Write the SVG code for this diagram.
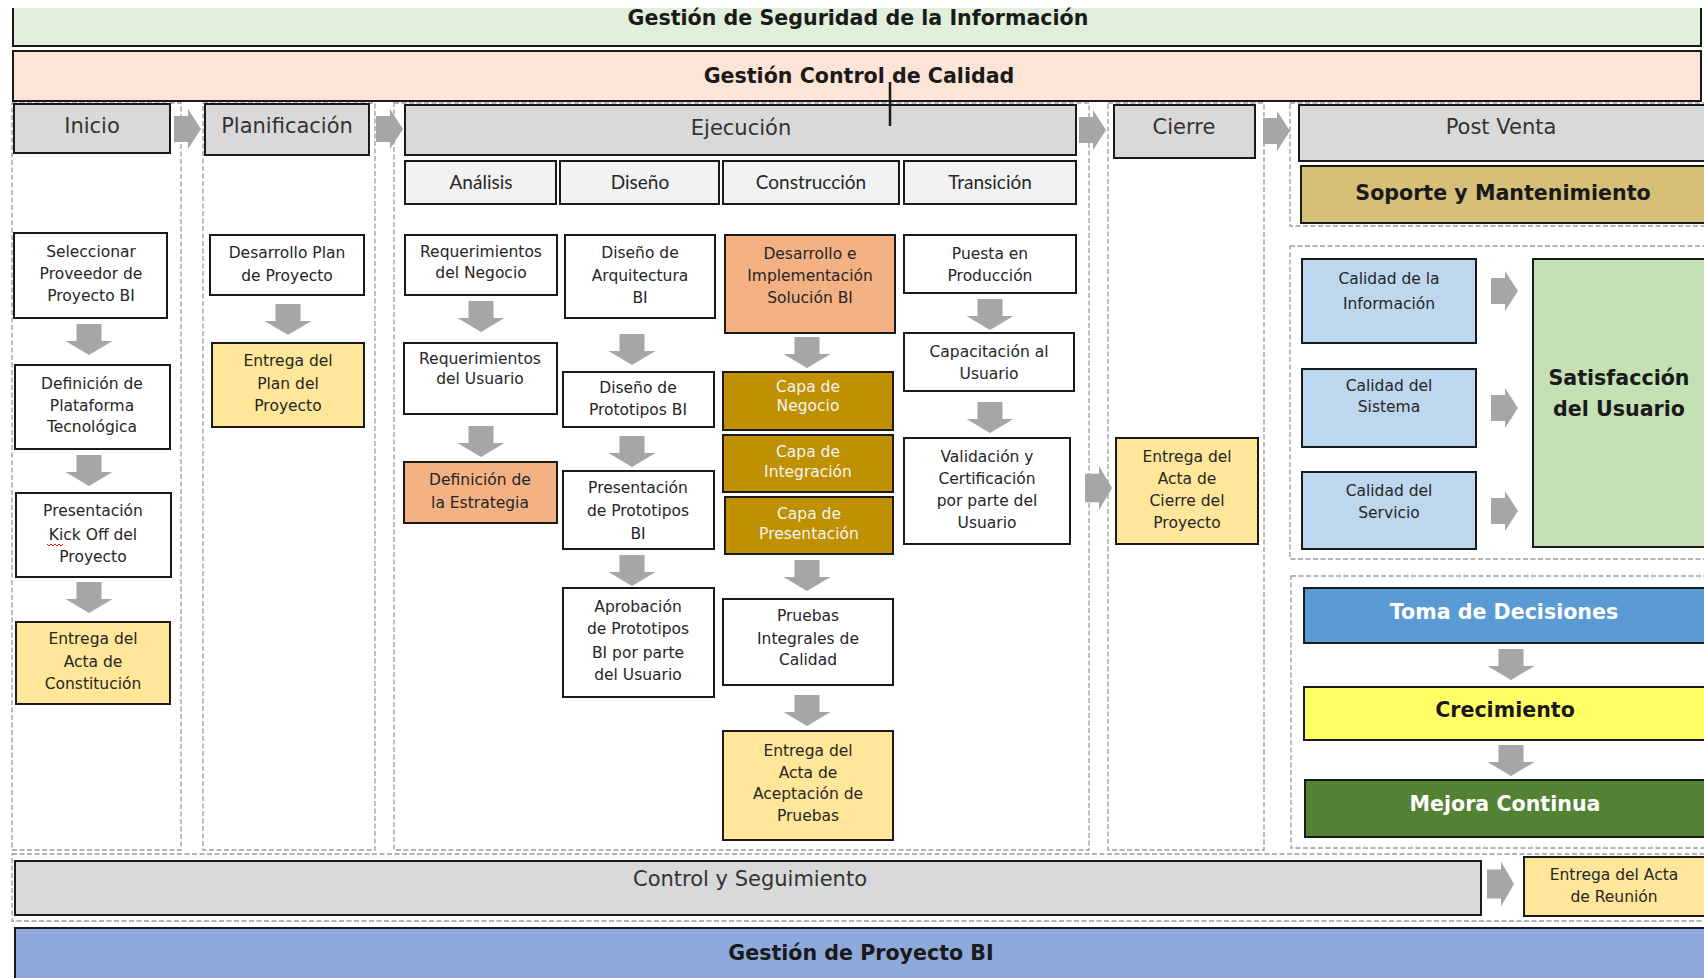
<svg xmlns="http://www.w3.org/2000/svg" width="1704" height="978" viewBox="0 0 1704 978">
  <style>
    .box { stroke: #1a1a1a; stroke-width: 2; }
    .dash { fill: none; stroke: #9c9c9c; stroke-width: 1.3; stroke-dasharray: 5 2.5; }
    .arrow { fill: #a6a6a6; }
    .t { font-family: "DejaVu Sans", "Liberation Sans", sans-serif; font-size: 15.5px; fill: #262626; text-anchor: middle; }
    .w { fill: #f4f4f4; }
    .h { font-family: "DejaVu Sans", "Liberation Sans", sans-serif; font-size: 21px; fill: #333333; text-anchor: middle; }
    .sub { font-family: Lato, "Liberation Sans", sans-serif; font-size: 19px; fill: #262626; text-anchor: middle; }
    .b { font-family: "DejaVu Sans", "Liberation Sans", sans-serif; font-weight: bold; font-size: 20.6px; fill: #1a1a1a; text-anchor: middle; }
    .bw { fill: #ffffff; }
    .gray { fill: #d9d9d9; }
    .light { fill: #f2f2f2; }
    .white { fill: #ffffff; }
    .yellow { fill: #ffe699; }
    .orange { fill: #f4b183; }
    .gold { fill: #bf9000; }
    .blue { fill: #bdd7ee; }
  </style>
  <defs>
    <path id="down" class="arrow" d="M-12.5,0 H12.5 V17 H23.5 L0,31 L-23.5,17 H-12.5 Z"/>
    <path id="right" class="arrow" d="M0,-13 H14 V-20 L27,0 L14,20 V13 H0 Z"/>
  </defs>

  <rect x="0" y="0" width="1704" height="978" fill="#ffffff"/>

  <!-- cross-cutting bands -->
  <g id="seguridad">
    <rect x="13" y="8" width="1688" height="38" fill="#e2efda"/>
    <path d="M13,8 V46 H1701 V8" fill="none" stroke="#1a1a1a" stroke-width="2"/>
    <text class="b" x="858" y="25">Gestión de Seguridad de la Información</text>
  </g>
  <g id="calidad">
    <rect class="box" x="13" y="51" width="1688" height="50" fill="#fce4d6"/>
    <text class="b" x="859" y="83">Gestión Control de Calidad</text>
  </g>

  <!-- phase lanes -->
  <g id="lanes">
    <rect class="dash" x="12" y="103" width="169" height="747"/>
    <rect class="dash" x="203" y="103" width="172" height="747"/>
    <rect class="dash" x="394" y="103" width="695" height="747"/>
    <rect class="dash" x="1108" y="103" width="156" height="747"/>
    <rect class="dash" x="1290" y="103" width="420" height="123"/>
    <rect class="dash" x="1290" y="246" width="420" height="313"/>
    <rect class="dash" x="1291" y="576" width="420" height="272"/>
    <rect class="dash" x="12" y="854" width="1700" height="67"/>
  </g>

  <!-- phase headers -->
  <g id="inicio">
    <rect class="box gray" x="14" y="104" width="156" height="49"/>
    <text class="h" x="92" y="133">Inicio</text>
  </g>
  <g id="planificacion">
    <rect class="box gray" x="205" y="104" width="164" height="51"/>
    <text class="h" x="287" y="133">Planificación</text>
  </g>
  <g id="ejecucion">
    <rect class="box gray" x="405" y="105" width="671" height="50"/>
    <text class="h" x="741" y="135">Ejecución</text>
  </g>
  <g id="analisis">
    <rect class="box light" x="405" y="161" width="151" height="43"/>
    <text class="sub" x="481" y="189">Análisis</text>
  </g>
  <g id="diseno">
    <rect class="box light" x="560" y="161" width="159" height="43"/>
    <text class="sub" x="640" y="189">Diseño</text>
  </g>
  <g id="construccion">
    <rect class="box light" x="723" y="161" width="176" height="43"/>
    <text class="sub" x="811" y="189">Construcción</text>
  </g>
  <g id="transicion">
    <rect class="box light" x="904" y="161" width="172" height="43"/>
    <text class="sub" x="990" y="189">Transición</text>
  </g>
  <g id="cierre">
    <rect class="box gray" x="1114" y="105" width="141" height="53"/>
    <text class="h" x="1184" y="134">Cierre</text>
  </g>
  <g id="post-venta">
    <rect class="box gray" x="1299" y="105" width="415" height="56"/>
    <text class="h" x="1501" y="134">Post Venta</text>
  </g>
  <g id="soporte">
    <rect class="box" x="1301" y="166" width="413" height="57" fill="#d6bf77"/>
    <text class="b" x="1503" y="200">Soporte y Mantenimiento</text>
  </g>

  <!-- Inicio -->
  <g id="seleccionar-proveedor">
    <rect class="box white" x="14" y="233" width="153" height="85"/>
    <text class="t" x="91"><tspan x="91" y="257">Seleccionar</tspan><tspan x="91" y="279">Proveedor de</tspan><tspan x="91" y="301">Proyecto BI</tspan></text>
  </g>
  <g id="definicion-plataforma">
    <rect class="box white" x="15" y="365" width="155" height="84"/>
    <text class="t"><tspan x="92" y="389">Definición de</tspan><tspan x="92" y="411">Plataforma</tspan><tspan x="92" y="432">Tecnológica</tspan></text>
  </g>
  <g id="kick-off">
    <rect class="box white" x="16" y="493" width="155" height="84"/>
    <text class="t"><tspan x="93" y="516">Presentación</tspan><tspan x="93" y="540">Kick Off del</tspan><tspan x="93" y="562">Proyecto</tspan></text>
    <path d="M47,544 l2,2 l2,-2 l2,2 l2,-2 l2,2 l2,-2 l2,2 l2,-2" fill="none" stroke="#e02020" stroke-width="1"/>
  </g>
  <g id="acta-constitucion">
    <rect class="box yellow" x="16" y="622" width="154" height="82"/>
    <text class="t"><tspan x="93" y="644">Entrega del</tspan><tspan x="93" y="667">Acta de</tspan><tspan x="93" y="689">Constitución</tspan></text>
  </g>

  <!-- Planificación -->
  <g id="plan-proyecto">
    <rect class="box white" x="210" y="235" width="154" height="60"/>
    <text class="t"><tspan x="287" y="258">Desarrollo Plan</tspan><tspan x="287" y="281">de Proyecto</tspan></text>
  </g>
  <g id="entrega-plan">
    <rect class="box yellow" x="212" y="343" width="152" height="84"/>
    <text class="t"><tspan x="288" y="366">Entrega del</tspan><tspan x="288" y="389">Plan del</tspan><tspan x="288" y="411">Proyecto</tspan></text>
  </g>

  <!-- Análisis -->
  <g id="req-negocio">
    <rect class="box white" x="405" y="235" width="152" height="60"/>
    <text class="t"><tspan x="481" y="257">Requerimientos</tspan><tspan x="481" y="278">del Negocio</tspan></text>
  </g>
  <g id="req-usuario">
    <rect class="box white" x="404" y="343" width="153" height="71"/>
    <text class="t"><tspan x="480" y="364">Requerimientos</tspan><tspan x="480" y="384">del Usuario</tspan></text>
  </g>
  <g id="estrategia">
    <rect class="box orange" x="404" y="462" width="153" height="61"/>
    <text class="t"><tspan x="480" y="485">Definición de</tspan><tspan x="480" y="508">la Estrategia</tspan></text>
  </g>

  <!-- Diseño -->
  <g id="arquitectura">
    <rect class="box white" x="565" y="235" width="150" height="83"/>
    <text class="t"><tspan x="640" y="258">Diseño de</tspan><tspan x="640" y="281">Arquitectura</tspan><tspan x="640" y="303">BI</tspan></text>
  </g>
  <g id="diseno-prototipos">
    <rect class="box white" x="563" y="372" width="151" height="55"/>
    <text class="t"><tspan x="638" y="393">Diseño de</tspan><tspan x="638" y="415">Prototipos BI</tspan></text>
  </g>
  <g id="presentacion-prototipos">
    <rect class="box white" x="563" y="471" width="151" height="78"/>
    <text class="t"><tspan x="638" y="493">Presentación</tspan><tspan x="638" y="516">de Prototipos</tspan><tspan x="638" y="539">BI</tspan></text>
  </g>
  <g id="aprobacion-prototipos">
    <rect class="box white" x="563" y="588" width="151" height="109"/>
    <text class="t"><tspan x="638" y="612">Aprobación</tspan><tspan x="638" y="634">de Prototipos</tspan><tspan x="638" y="658">BI por parte</tspan><tspan x="638" y="680">del Usuario</tspan></text>
  </g>

  <!-- Construcción -->
  <g id="desarrollo-solucion">
    <rect class="box orange" x="725" y="235" width="170" height="98"/>
    <text class="t"><tspan x="810" y="259">Desarrollo e</tspan><tspan x="810" y="281">Implementación</tspan><tspan x="810" y="303">Solución BI</tspan></text>
  </g>
  <g id="capa-negocio">
    <rect class="box gold" x="723" y="372" width="170" height="58"/>
    <text class="t w"><tspan x="808" y="392">Capa de</tspan><tspan x="808" y="411">Negocio</tspan></text>
  </g>
  <g id="capa-integracion">
    <rect class="box gold" x="723" y="435" width="170" height="57"/>
    <text class="t w"><tspan x="808" y="457">Capa de</tspan><tspan x="808" y="477">Integración</tspan></text>
  </g>
  <g id="capa-presentacion">
    <rect class="box gold" x="725" y="497" width="168" height="57"/>
    <text class="t w"><tspan x="809" y="519">Capa de</tspan><tspan x="809" y="539">Presentación</tspan></text>
  </g>
  <g id="pruebas-integrales">
    <rect class="box white" x="723" y="599" width="170" height="86"/>
    <text class="t"><tspan x="808" y="621">Pruebas</tspan><tspan x="808" y="644">Integrales de</tspan><tspan x="808" y="665">Calidad</tspan></text>
  </g>
  <g id="acta-aceptacion">
    <rect class="box yellow" x="723" y="731" width="170" height="109"/>
    <text class="t"><tspan x="808" y="756">Entrega del</tspan><tspan x="808" y="778">Acta de</tspan><tspan x="808" y="799">Aceptación de</tspan><tspan x="808" y="821">Pruebas</tspan></text>
  </g>

  <!-- Transición -->
  <g id="puesta-produccion">
    <rect class="box white" x="904" y="235" width="172" height="58"/>
    <text class="t"><tspan x="990" y="259">Puesta en</tspan><tspan x="990" y="281">Producción</tspan></text>
  </g>
  <g id="capacitacion">
    <rect class="box white" x="904" y="333" width="170" height="58"/>
    <text class="t"><tspan x="989" y="357">Capacitación al</tspan><tspan x="989" y="379">Usuario</tspan></text>
  </g>
  <g id="validacion">
    <rect class="box white" x="904" y="438" width="166" height="106"/>
    <text class="t"><tspan x="987" y="462">Validación y</tspan><tspan x="987" y="484">Certificación</tspan><tspan x="987" y="506">por parte del</tspan><tspan x="987" y="528">Usuario</tspan></text>
  </g>

  <!-- Cierre -->
  <g id="acta-cierre">
    <rect class="box yellow" x="1116" y="438" width="142" height="106"/>
    <text class="t"><tspan x="1187" y="462">Entrega del</tspan><tspan x="1187" y="484">Acta de</tspan><tspan x="1187" y="506">Cierre del</tspan><tspan x="1187" y="528">Proyecto</tspan></text>
  </g>

  <!-- Post Venta -->
  <g id="calidad-informacion">
    <rect class="box blue" x="1302" y="259" width="174" height="84"/>
    <text class="t"><tspan x="1389" y="284">Calidad de la</tspan><tspan x="1389" y="309">Información</tspan></text>
  </g>
  <g id="calidad-sistema">
    <rect class="box blue" x="1302" y="369" width="174" height="78"/>
    <text class="t"><tspan x="1389" y="391">Calidad del</tspan><tspan x="1389" y="412">Sistema</tspan></text>
  </g>
  <g id="calidad-servicio">
    <rect class="box blue" x="1302" y="472" width="174" height="77"/>
    <text class="t"><tspan x="1389" y="496">Calidad del</tspan><tspan x="1389" y="518">Servicio</tspan></text>
  </g>
  <g id="satisfaccion">
    <rect class="box" x="1533" y="259" width="180" height="288" fill="#c5e0b4"/>
    <text class="b" font-size="21"><tspan x="1619" y="385">Satisfacción</tspan><tspan x="1619" y="416">del Usuario</tspan></text>
  </g>
  <g id="toma-decisiones">
    <rect class="box" x="1304" y="588" width="410" height="55" fill="#5b9bd5"/>
    <text class="b bw" x="1504" y="619">Toma de Decisiones</text>
  </g>
  <g id="crecimiento">
    <rect class="box" x="1304" y="687" width="410" height="53" fill="#ffff66"/>
    <text class="b" x="1505" y="717">Crecimiento</text>
  </g>
  <g id="mejora-continua">
    <rect class="box" x="1305" y="780" width="410" height="57" fill="#548235"/>
    <text class="b bw" x="1505" y="811">Mejora Continua</text>
  </g>

  <!-- Control y Seguimiento -->
  <g id="control-seguimiento">
    <rect class="box gray" x="15" y="861" width="1466" height="54"/>
    <text class="h" x="750" y="886">Control y Seguimiento</text>
  </g>
  <g id="acta-reunion">
    <rect class="box yellow" x="1524" y="857" width="190" height="59"/>
    <text class="t"><tspan x="1614" y="880">Entrega del Acta</tspan><tspan x="1614" y="902">de Reunión</tspan></text>
  </g>

  <g id="proyecto-bi">
    <rect class="box" x="15" y="928" width="1700" height="60" fill="#8ea9db"/>
    <text class="b" x="861" y="960">Gestión de Proyecto BI</text>
  </g>

  <!-- connectors -->
  <g id="connectors">
    <use href="#right" x="174" y="129"/>
    <use href="#right" x="376" y="129"/>
    <use href="#right" x="1079" y="130"/>
    <use href="#right" x="1263" y="131"/>
    <use href="#right" x="1085" y="488" transform="translate(1085 488) scale(1 1.1) translate(-1085 -488)"/>

    <use href="#down" x="89" y="324"/>
    <use href="#down" x="89" y="455"/>
    <use href="#down" x="89" y="582"/>

    <use href="#down" x="288" y="304"/>

    <use href="#down" x="481" y="301"/>
    <use href="#down" x="481" y="426"/>

    <use href="#down" x="632" y="334"/>
    <use href="#down" x="632" y="436"/>
    <use href="#down" x="632" y="555"/>

    <use href="#down" x="807" y="337"/>
    <use href="#down" x="807" y="560"/>
    <use href="#down" x="807" y="695"/>

    <use href="#down" x="990" y="299"/>
    <use href="#down" x="990" y="402"/>

    <use href="#right" x="1491" y="291"/>
    <use href="#right" x="1491" y="408"/>
    <use href="#right" x="1491" y="511"/>

    <use href="#down" x="1511" y="649"/>
    <use href="#down" x="1511" y="745"/>

    <use href="#right" x="1487" y="884" transform="translate(1487 884) scale(1 1.12) translate(-1487 -884)"/>

    <line x1="890" y1="82" x2="890" y2="126" stroke="#1a1a1a" stroke-width="2.5"/>
  </g>
</svg>
